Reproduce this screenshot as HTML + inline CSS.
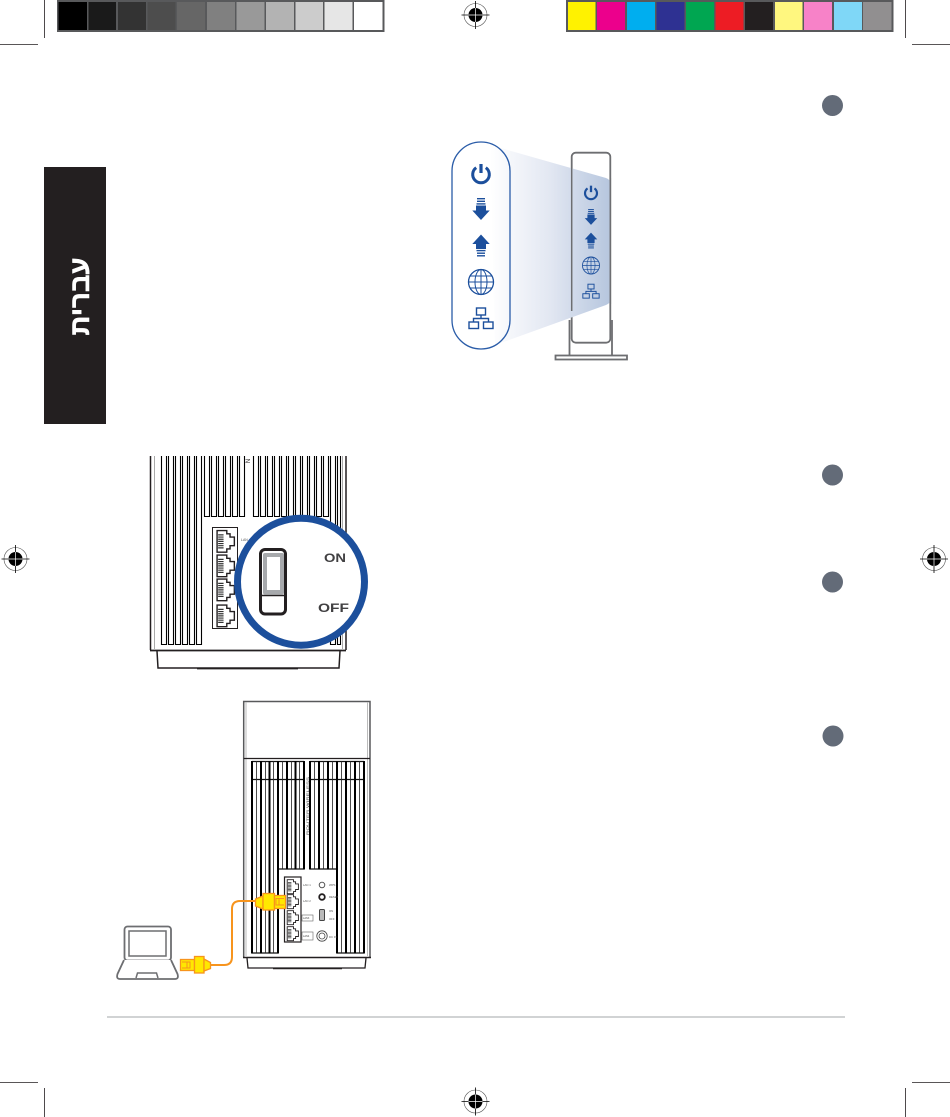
<!DOCTYPE html>
<html><head><meta charset="utf-8">
<style>html,body{margin:0;padding:0;background:#fff;width:950px;height:1117px;overflow:hidden}svg{display:block}text{font-family:"Liberation Sans",sans-serif}</style>
</head><body>
<svg width="950" height="1117" viewBox="0 0 950 1117" xmlns="http://www.w3.org/2000/svg">
<defs>
<g id="reg">
  <circle r="11.500" fill="#fff" stroke="#555" stroke-width=".6"/>
  <circle r="7" fill="#000"/>
  <path d="M-14 0H14M0-14V14" stroke="#000" stroke-width=".8"/>
  <path d="M-7 0H7M0-7V7" stroke="#fff" stroke-width=".7"/>
</g>
<g id="power" fill="none" stroke="#1c4f9c">
  <path d="M-4.800-5.800A8.300 8.300 0 1 0 4.800-5.800" stroke-width="3"/>
  <path d="M0-9.500V-0.500" stroke-width="3.200"/>
</g>
<g id="down" fill="#1c4f9c">
  <rect x="-4" y="-11" width="8" height="1.400"/><rect x="-4" y="-8.400" width="8" height="1.400"/><rect x="-4.500" y="-5.800" width="9" height="1.400"/>
  <path d="M-5-3.500H5V1.500H8.700L0 11-8.700 1.500H-5Z"/>
</g>
<g id="up" fill="#1c4f9c">
  <path d="M-5 3.500H5V-1.500H8.700L0-11-8.700-1.500H-5Z"/>
  <rect x="-4.500" y="4.400" width="9" height="1.400"/><rect x="-4" y="7" width="8" height="1.400"/><rect x="-4" y="9.600" width="8" height="1.400"/>
</g>
<g id="globe" fill="none" stroke="#1c4f9c" stroke-width="1">
  <circle r="12.500" stroke-width="1.300"/>
  <ellipse rx="6" ry="12.500"/>
  <path d="M0-12.500V12.500M-12.500 0H12.500M-10.800-6H10.800M-10.800 6H10.800"/>
</g>
<g id="net" fill="none" stroke="#1c4f9c" stroke-width="1.400">
  <rect x="-4.500" y="-10" width="9" height="7"/>
  <path d="M0-3V0.500M-7.500 4V0.500H7.500V4"/>
  <rect x="-12" y="4" width="9.500" height="6.500"/>
  <rect x="2.500" y="4" width="9.500" height="6.500"/>
</g>
<g id="port">
  <path d="M1 1H10V4H13V7H17V15H13V18H10V21H1Z" fill="#fff" stroke="#231f20" stroke-width="1.300"/>
  <path d="M2 5H7M2 7H7M2 9H7M2 11H7M2 13H7M2 15H7M2 17H7" stroke="#333" stroke-width="1.100"/>
</g>
<linearGradient id="beam" x1="0" x2="1" y1="0" y2="0"><stop offset="0" stop-color="#fff"/><stop offset=".5" stop-color="#e2e7f2"/><stop offset="1" stop-color="#b6c6de"/></linearGradient>
</defs>

<!-- colour bars -->
<rect x="57" y="0" width="327.500" height="32" fill="#58595b"/>
<rect x="58.500" y="2" width="28.500" height="28" fill="#000"/>
<rect x="88.500" y="2" width="27.500" height="28" fill="#1a1a1a"/>
<rect x="118" y="2" width="28" height="28" fill="#333"/>
<rect x="147.500" y="2" width="28" height="28" fill="#4d4d4d"/>
<rect x="177" y="2" width="28" height="28" fill="#666"/>
<rect x="207" y="2" width="28" height="28" fill="#808080"/>
<rect x="236.500" y="2" width="28" height="28" fill="#999"/>
<rect x="266" y="2" width="28" height="28" fill="#b3b3b3"/>
<rect x="295.500" y="2" width="27.500" height="28" fill="#ccc"/>
<rect x="324.500" y="2" width="28" height="28" fill="#e6e6e6"/>
<rect x="354" y="2" width="28.500" height="28" fill="#fff"/>
<rect x="566" y="0" width="327.500" height="32" fill="#58595b"/>
<rect x="568" y="2" width="27.500" height="28" fill="#fff200"/>
<rect x="597" y="2" width="28" height="28" fill="#ec008c"/>
<rect x="627" y="2" width="28" height="28" fill="#00aeef"/>
<rect x="656.500" y="2" width="28" height="28" fill="#2e3192"/>
<rect x="686" y="2" width="28" height="28" fill="#00a651"/>
<rect x="715.500" y="2" width="28" height="28" fill="#ed1c24"/>
<rect x="745" y="2" width="28" height="28" fill="#231f20"/>
<rect x="775" y="2" width="27.500" height="28" fill="#fff77f"/>
<rect x="804" y="2" width="28" height="28" fill="#f782c8"/>
<rect x="834" y="2" width="28" height="28" fill="#7fd7f7"/>
<rect x="863" y="2" width="28.500" height="28" fill="#918f90"/>

<!-- crop marks -->
<path d="M44.500 0V38M905.500 0V38M0 44.500H38M912 44.500H950M0 1082.500H38M912 1082.500H950M44.500 1088V1117M905.500 1088V1117" stroke="#231f20" stroke-width=".8" fill="none"/>
<use href="#reg" x="475.500" y="15"/>
<use href="#reg" x="15.500" y="559"/>
<use href="#reg" x="934" y="559"/>
<use href="#reg" x="475.500" y="1101.500"/>

<!-- bottom rule -->
<rect x="107" y="1016" width="738" height="2" fill="#d1d3d4"/>

<!-- side tab -->
<rect x="44" y="167" width="62" height="257" fill="#231f20"/>
<text transform="translate(89 296.500) rotate(-90)" text-anchor="middle" font-size="27" font-weight="bold" fill="#fff" stroke="#fff" stroke-width=".5" textLength="78" lengthAdjust="spacingAndGlyphs" direction="rtl">עברית</text>

<!-- number circles -->
<circle cx="832.500" cy="105.500" r="10.500" fill="#636b78"/>
<circle cx="832.500" cy="475" r="10.500" fill="#636b78"/>
<circle cx="832.500" cy="582" r="10.500" fill="#636b78"/>
<circle cx="833" cy="736" r="10.500" fill="#636b78"/>

<!-- Diagram 1 -->
<path d="M569.500 320V355M612 320V355" stroke="#6d6e71" stroke-width="1.800" fill="none"/>
<rect x="555.500" y="355.500" width="71.500" height="4" fill="#fff" stroke="#6d6e71" stroke-width="1.800"/>
<rect x="571.700" y="152.700" width="38.600" height="190" rx="4" fill="#fff" stroke="#6d6e71" stroke-width="1.800"/>
<path d="M490 145L606 178Q610 179.500 610.500 183V300Q610.500 303 606 305L495 345Z" fill="url(#beam)"/>
<path d="M571.700 168V311M610.300 178V304" stroke="#6d6e71" stroke-width="1.500" fill="none"/>
<rect x="452" y="142" width="58" height="207" rx="29" fill="none" stroke="#2a5ca8" stroke-width="1.300"/>
<use href="#power" x="481" y="173.500"/>
<use href="#down" x="481" y="209"/>
<use href="#up" x="481" y="245.500"/>
<use href="#globe" x="481" y="282"/>
<use href="#net" x="481" y="318"/>
<g transform="translate(591 192.500) scale(.72)"><use href="#power"/></g>
<g transform="translate(591 217) scale(.72)"><use href="#down"/></g>
<g transform="translate(591 240.500) scale(.72)"><use href="#up"/></g>
<g transform="translate(591 265.500) scale(.68)"><use href="#globe"/></g>
<g transform="translate(591 291) scale(.68)"><use href="#net"/></g>

<!-- Diagram 2 -->
<path d="M150.500 456V650M346 456V650" fill="none" stroke="#231f20" stroke-width="1.500"/>
<path d="M154.500 456V649M342.500 456V649" stroke="#aaa" stroke-width="1" fill="none"/>
<path d="M157 651L158 668H339L340 651" fill="none" stroke="#231f20" stroke-width="1.500"/>
<path d="M197 668.500H298" stroke="#231f20" stroke-width="1.800"/>
<path d="M150 650.500H346" stroke="#231f20" stroke-width="1.800"/>
<path d="M161.500 456V644.500H166.500V456M168.500 456V644.500H173.500V456M175.500 456V644.500H180.500V456M182.500 456V644.500H187.500V456M189.500 456V644.500H194.500V456M196.500 456V644.500H201.500V456" fill="none" stroke="#000" stroke-width="1.100"/>
<path d="M204.500 456V516.500H209.500V456M211.500 456V516.500H216.500V456M218.500 456V516.500H223.500V456M225.500 456V516.500H230.500V456M232.500 456V516.500H237.500V456M239.500 456V516.500H244.500V456" fill="none" stroke="#000" stroke-width="1.100"/>
<path d="M253.500 456V516.500H258.500V456M260.500 456V516.500H265.500V456M267.500 456V516.500H272.500V456M274.500 456V516.500H279.500V456M281.500 456V516.500H286.500V456M288.500 456V516.500H293.500V456M295.500 456V516.500H300.500V456M302.500 456V516.500H307.500V456M309.500 456V516.500H314.500V456M316.500 456V516.500H321.500V456M323.500 456V516.500H328.500V456M330.500 456V644.500H335.500V456M337.500 456V644.500H340.500V456" fill="none" stroke="#000" stroke-width="1.100"/>
<text transform="translate(250 461) rotate(-90)" font-size="6" fill="#231f20" text-anchor="middle">N</text>
<rect x="212.500" y="527.500" width="25" height="101" fill="#fff" stroke="#231f20" stroke-width="1"/>
<g transform="translate(216 529.500) scale(1.080)"><use href="#port"/></g>
<g transform="translate(216 554) scale(1.080)"><use href="#port"/></g>
<g transform="translate(216 578) scale(1.080)"><use href="#port"/></g>
<g transform="translate(216 604) scale(1.080)"><use href="#port"/></g>
<text x="241" y="541" font-size="3.500" fill="#555">LAN</text>
<circle cx="301" cy="581.700" r="63.500" fill="#fff" stroke="#1c4f9c" stroke-width="7"/>
<rect x="260.500" y="549.500" width="25" height="64.500" rx="4.500" fill="#fff" stroke="#231f20" stroke-width="3"/>
<rect x="263" y="553" width="21" height="41.500" rx="2" fill="#a7a9ac"/>
<rect x="267" y="557" width="13" height="33" fill="#fff"/>
<path d="M261 595.500H285" stroke="#231f20" stroke-width="1.500"/>
<text x="324" y="562" font-size="11.500" font-weight="bold" fill="#414042" textLength="22" lengthAdjust="spacingAndGlyphs">ON</text>
<text x="318" y="612" font-size="11.500" font-weight="bold" fill="#414042" textLength="31" lengthAdjust="spacingAndGlyphs">OFF</text>

<!-- Diagram 3 -->
<path d="M243.700 957V701.500H370V957" fill="#fff" stroke="#58595b" stroke-width="1.500"/>
<path d="M246 702V956M367.500 702V956" stroke="#bbb" stroke-width="1" fill="none"/>
<path d="M243.700 758.500H370" stroke="#231f20" stroke-width="1.200"/>
<path d="M247 958L248 968H365L366 958" fill="none" stroke="#231f20" stroke-width="1.300"/>
<path d="M273 968.500H342" stroke="#231f20" stroke-width="1.400"/>
<path d="M243 957.500H371" stroke="#231f20" stroke-width="1.500"/>
<path d="M252 761.500H304M310 761.500H364M252 779.500H304M310 779.500H364M252 953H278M337 953H364M278 869H304M310 869H337" stroke="#111" stroke-width="1.200" fill="none"/>
<!-- thick bars -->
<path d="M252 761V953.500M261 761V953.500M269.500 761V953.500M278 761V953.500M287 761V869.500M295.500 761V869.500M304 761V869.500M310 761V869.500M319 761V869.500M328 761V869.500M337 761V953.500M346 761V953.500M355 761V953.500M364 761V953.500" stroke="#000" stroke-width="2" fill="none"/>
<!-- thin lines -->
<path d="M256.500 761V953M265.500 761V953M273.500 761V953M282.500 761V869M291.500 761V869M299.500 761V869M314.500 761V869M323.500 761V869M332.500 761V869M341.500 761V953M350.500 761V953M359.500 761V953" stroke="#222" stroke-width=".8" fill="none"/>
<text transform="translate(309 835) rotate(-90)" font-size="4" fill="#444" textLength="58" lengthAdjust="spacingAndGlyphs">ROUTER WIRELESS</text>
<rect x="284.500" y="877" width="16.500" height="65" fill="#fff" stroke="#231f20" stroke-width="1.200"/>
<g transform="translate(286.500 879) scale(.7)"><use href="#port"/></g>
<g transform="translate(286.500 894) scale(.7)"><use href="#port"/></g>
<g transform="translate(286.500 910) scale(.7)"><use href="#port"/></g>
<g transform="translate(286.500 926) scale(.7)"><use href="#port"/></g>
<g font-size="2.800" fill="#555">
<text x="303" y="886">LAN 1</text><text x="303" y="902">LAN 2</text><text x="329" y="886">WPS</text><text x="329" y="898">RESET</text><text x="329" y="912">ON</text><text x="329" y="920">OFF</text><text x="329" y="938">DC IN</text>
</g>
<rect x="302" y="915" width="11" height="6" fill="#fff" stroke="#666" stroke-width=".6"/>
<rect x="302" y="932" width="11" height="8" fill="#fff" stroke="#666" stroke-width=".6"/>
<text x="303" y="919" font-size="2.500" fill="#444">LAN3</text><text x="303" y="937" font-size="2.500" fill="#444">LAN4</text>
<circle cx="322" cy="885" r="2.800" fill="#fff" stroke="#444" stroke-width=".9"/>
<circle cx="322" cy="897" r="2.800" fill="#fff" stroke="#231f20" stroke-width="1.800"/>
<rect x="319.500" y="909.500" width="5" height="11" rx="1" fill="#bbb" stroke="#444" stroke-width="1"/>
<circle cx="322" cy="936" r="5.200" fill="#fff" stroke="#444" stroke-width=".8"/>
<circle cx="322" cy="936" r="3" fill="#fff" stroke="#444" stroke-width=".8"/>

<!-- cable -->
<path d="M256 901H240Q232 901 232 909V957Q232 965 224 965H210" fill="none" stroke="#f7941d" stroke-width="2"/>
<!-- top plug -->
<path d="M255.500 899L263 896V909L255.500 906Z" fill="#ffe800" stroke="#f7941d" stroke-width="1.300"/>
<rect x="263" y="893.500" width="11.500" height="16.500" fill="#ffe800" stroke="#f7941d" stroke-width="1.300"/>
<rect x="274.500" y="895.500" width="11" height="13" fill="#ffe800" stroke="#f7941d" stroke-width="1.300"/>
<path d="M284 898.500H276V905H284M279 898.500V905" fill="none" stroke="#f7941d" stroke-width="1"/>
<!-- laptop -->
<rect x="124.500" y="926.500" width="46.500" height="34" rx="3" fill="#fff" stroke="#6d6e71" stroke-width="1.800"/>
<rect x="129" y="931" width="37" height="25" fill="#fff" stroke="#6d6e71" stroke-width="1.500"/>
<path d="M124 960L117.500 974Q116 979 120 979H175Q179 979 177.500 974L171 960" fill="#fff" stroke="#6d6e71" stroke-width="1.800"/>
<path d="M136 978L137.500 973H156.500L158 978" fill="none" stroke="#6d6e71" stroke-width="1.500"/>
<!-- bottom plug -->
<rect x="180.500" y="959.500" width="14" height="11" fill="#ffe800" stroke="#f7941d" stroke-width="1.300"/>
<path d="M182 962H190V968H182M187 962V968" fill="none" stroke="#f7941d" stroke-width="1"/>
<rect x="194.500" y="956.500" width="9.500" height="16.500" fill="#ffe800" stroke="#f7941d" stroke-width="1.300"/>
<path d="M204 959L210.500 962.500V968.500L204 971Z" fill="#ffe800" stroke="#f7941d" stroke-width="1.300"/>
</svg>
</body></html>
